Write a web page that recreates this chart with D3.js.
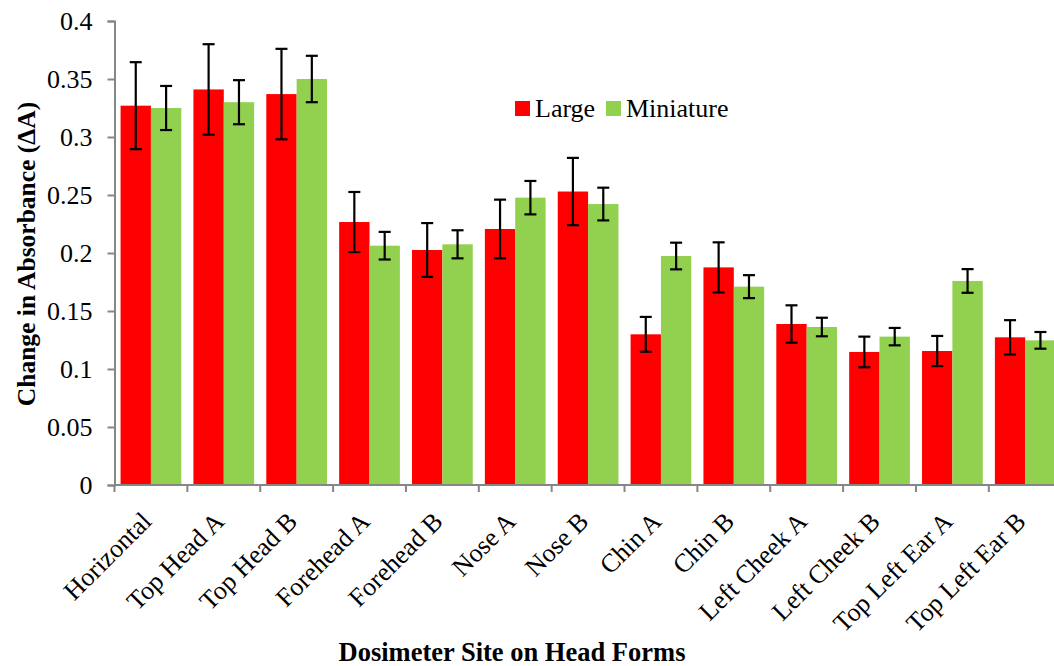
<!DOCTYPE html>
<html><head><meta charset="utf-8">
<script src="https://cdn.jsdelivr.net/npm/d3@7"></script>
<style>body{margin:0;background:#fff}svg{display:block}</style>
</head><body><svg id="c" width="1054" height="666"></svg>
<script>
const categories = ["Horizontal","Top Head A","Top Head B","Forehead A","Forehead B","Nose A","Nose B","Chin A","Chin B","Left Cheek A","Left Cheek B","Top Left Ear A","Top Left Ear B"];
const seriesNames = ["Large","Miniature"];
const largeValues = [0.327,0.341,0.337,0.2267,0.2026,0.2207,0.2530,0.1299,0.1876,0.1388,0.1147,0.1155,0.1273];
const largeErrors = [0.0375,0.039,0.039,0.0259,0.0232,0.0253,0.029,0.015,0.0216,0.0161,0.0132,0.013,0.0148];
const miniValues = [0.325,0.330,0.350,0.2063,0.2075,0.2477,0.2422,0.1974,0.171,0.1362,0.1279,0.1759,0.1247];
const miniErrors = [0.019,0.019,0.020,0.0119,0.0121,0.0144,0.0141,0.0115,0.0099,0.008,0.0075,0.0102,0.0072];
const yTicks = [0,0.05,0.1,0.15,0.2,0.25,0.3,0.35,0.4];
const colors = ["#ff0000","#92d050"];
const FONT = "'Liberation Serif', 'Times New Roman', Tinos, 'DejaVu Serif', serif";

const svg = d3.select("#c").attr("font-family", FONT);
const x0 = 114.5, step = 72.86;
const x = d3.scaleBand().domain(categories).range([x0, x0 + step*categories.length]).paddingInner(0).paddingOuter(0);
const xs = d3.scaleBand().domain(seriesNames).range([0, x.bandwidth()]).paddingInner(0).paddingOuter(0.2);
const y = d3.scaleLinear().domain([0,0.4]).range([485,21]);

const series = [
  {name:"Large", vals: largeValues, errs: largeErrors},
  {name:"Miniature", vals: miniValues, errs: miniErrors}
];

series.forEach((s,si)=>{
  svg.append("g").selectAll("rect").data(categories).join("rect")
    .attr("x", d=>x(d)+xs(s.name))
    .attr("width", xs.bandwidth())
    .attr("y", (d,i)=>y(s.vals[i]))
    .attr("height", (d,i)=>y(0)-y(s.vals[i]))
    .attr("fill", colors[si]);
});

const yAxis = d3.axisLeft(y).tickValues(yTicks).tickSize(7).tickPadding(15)
  .tickFormat(d=> d===0 ? "0" : String(+d.toFixed(2)));
const gy = svg.append("g").attr("transform",`translate(${x0},0)`).call(yAxis)
  .attr("font-family", FONT).attr("font-size", 26);
gy.select(".domain").attr("stroke","#868686").attr("stroke-width",2);
gy.selectAll(".tick line").attr("stroke","#868686").attr("stroke-width",2);
gy.selectAll(".tick text").attr("fill","#000").attr("dy","0.34em");

const boundaries = d3.range(categories.length+1).map(i=>x0+i*step);
const gx = svg.append("g");
gx.append("line").attr("x1",x0).attr("x2",x0+step*categories.length).attr("y1",y(0)).attr("y2",y(0))
  .attr("stroke","#868686").attr("stroke-width",2);
gx.selectAll("line.t").data(boundaries).join("line").attr("class","t")
  .attr("x1",d=>d).attr("x2",d=>d).attr("y1",y(0)).attr("y2",y(0)+7)
  .attr("stroke","#868686").attr("stroke-width",2);
gx.selectAll("text").data(categories).join("text")
  .attr("transform", d=>`translate(${x(d)+x.bandwidth()/2+2},${y(0)+38}) rotate(-45)`)
  .attr("text-anchor","end")
  .attr("font-size",26)
  .text(d=>d);

series.forEach((s,si)=>{
  const g = svg.append("g").attr("stroke","#000").attr("stroke-width",2.2);
  categories.forEach((c,i)=>{
    const cx = x(c)+xs(s.name)+xs.bandwidth()/2;
    const hi = y(s.vals[i]+s.errs[i]), lo = y(s.vals[i]-s.errs[i]);
    g.append("line").attr("x1",cx).attr("x2",cx).attr("y1",hi).attr("y2",lo);
    g.append("line").attr("x1",cx-6).attr("x2",cx+6).attr("y1",hi).attr("y2",hi);
    g.append("line").attr("x1",cx-6).attr("x2",cx+6).attr("y1",lo).attr("y2",lo);
  });
});

const lg = svg.append("g");
const legendX = [515, 606];
seriesNames.forEach((n,i)=>{
  lg.append("rect").attr("x",legendX[i]).attr("y",101).attr("width",15).attr("height",15).attr("fill",colors[i]);
  lg.append("text").attr("x",legendX[i]+20).attr("y",117).attr("font-size",26).text(n);
});

svg.append("text").attr("transform","translate(35,254) rotate(-90)").attr("text-anchor","middle")
  .attr("font-size",25.5).attr("font-weight","bold").text("Change in Absorbance (ΔA)");
svg.append("text").attr("x",512).attr("y",661).attr("text-anchor","middle")
  .attr("font-size",26.5).attr("font-weight","bold").text("Dosimeter Site on Head Forms");
</script></body></html>
